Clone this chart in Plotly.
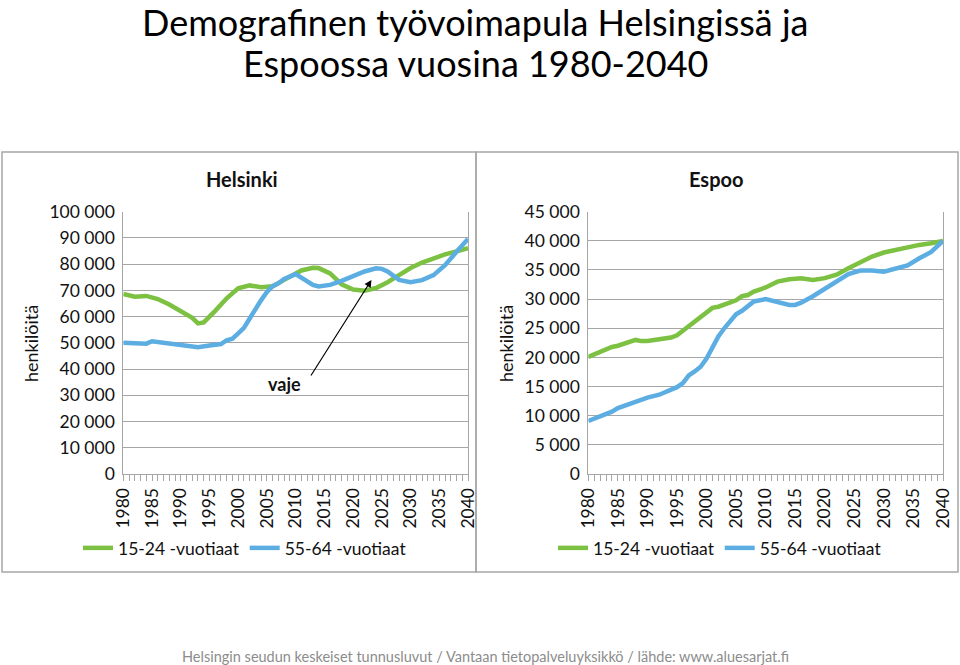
import plotly.graph_objects as go

# Helsinki, 15-24 -vuotiaat
hki_young_years = [1980, 1982, 1984, 1986, 1988, 1990, 1992, 1993, 1994, 1996, 1998,
                   2000, 2002, 2004, 2006, 2008, 2010, 2011, 2013, 2014, 2016, 2018,
                   2020, 2022, 2024, 2026, 2028, 2030, 2032, 2034, 2036, 2038, 2040]
hki_young = [68600, 67600, 67900, 66700, 64600, 62100, 59500, 57400, 57800, 62200, 67000,
             70800, 71900, 71200, 71600, 74000, 76300, 77600, 78600, 78500, 76500, 72300,
             70300, 69900, 70900, 73100, 75800, 78500, 80600, 82200, 83700, 84900, 86100]

# Helsinki, 55-64 -vuotiaat
hki_old_years = [1980, 1982, 1984, 1985, 1987, 1989, 1991, 1993, 1995, 1997, 1998, 1999,
                 2000, 2001, 2002, 2003, 2004, 2005, 2006, 2007, 2008, 2010, 2011, 2012,
                 2013, 2014, 2016, 2018, 2020, 2022, 2024, 2025, 2026, 2027, 2028, 2030,
                 2032, 2034, 2036, 2038, 2040]
hki_old = [50000, 50000, 49700, 50600, 50000, 49400, 48600, 48300, 49000, 49500, 51000, 51600,
           53600, 55700, 59300, 63100, 66300, 69400, 71600, 72700, 74400, 76200, 74900, 73200,
           72100, 71500, 72100, 73600, 75600, 77200, 78400, 78200, 77200, 75400, 74000, 73100,
           73900, 75800, 79600, 84700, 89600]

# Espoo, 15-24 -vuotiaat
esp_young_years = [1980, 1982, 1984, 1985, 1986, 1988, 1989, 1990, 1992, 1994, 1995, 1996,
                   1998, 2000, 2001, 2002, 2004, 2005, 2006, 2007, 2008, 2010, 2012, 2014,
                   2016, 2018, 2020, 2022, 2024, 2026, 2028, 2030, 2032, 2034, 2036, 2038,
                   2040]
esp_young = [20100, 21000, 21800, 22000, 22400, 23000, 22800, 22800, 23100, 23400, 23800, 24600,
             26100, 27800, 28500, 28700, 29400, 29800, 30500, 30700, 31300, 32000, 33000, 33400,
             33600, 33300, 33600, 34200, 35300, 36300, 37300, 38000, 38500, 38900, 39300, 39600,
             40000]

# Espoo, 55-64 -vuotiaat
esp_old_years = [1980, 1982, 1984, 1985, 1986, 1988, 1990, 1992, 1994, 1995, 1996, 1997,
                 1998, 1999, 2000, 2001, 2002, 2003, 2004, 2005, 2006, 2007, 2008, 2010,
                 2012, 2014, 2015, 2016, 2018, 2020, 2022, 2024, 2026, 2028, 2030, 2032,
                 2034, 2036, 2038, 2040]
esp_old = [9100, 9800, 10700, 11300, 11700, 12500, 13100, 13600, 14400, 14900, 15600, 16900,
           17600, 18400, 19800, 21800, 23600, 25000, 26300, 27400, 28000, 28900, 29600, 30000,
           29400, 29000, 29000, 29400, 30500, 31800, 33000, 34300, 34900, 34900, 34700, 35300,
           35800, 37000, 38100, 40000]

series_names = ["15-24 -vuotiaat", "55-64 -vuotiaat"]
tick_years = list(range(1980, 2041))
tick_labels = [str(y) if y % 5 == 0 else "" for y in tick_years]
hki_yticks = list(range(0, 100001, 10000))
esp_yticks = list(range(0, 45001, 5000))
title_lines = ["Demografinen työvoimapula Helsingissä ja", "Espoossa vuosina 1980-2040"]

GREEN = "#7cc142"
BLUE = "#5caee2"
FONT = "Lato"
W, H = 960, 665


def px_x(p):
    return p / W


def px_y(p):
    return 1 - p / H


fig = go.Figure()

panels = [
    ("x", "y", "legend", [(hki_young_years, hki_young), (hki_old_years, hki_old)]),
    ("x2", "y2", "legend2", [(esp_young_years, esp_young), (esp_old_years, esp_old)]),
]
for xa, ya, leg, data in panels:
    for (xs, ys), name, col in zip(data, series_names, [GREEN, BLUE]):
        fig.add_trace(go.Scatter(
            x=xs, y=ys, name=name, mode="lines", xaxis=xa, yaxis=ya, legend=leg,
            line=dict(color=col, width=4.5), hoverinfo="x+y"))

tick_font = dict(family=FONT, size=17.5, color="#111")
x_common = dict(
    showgrid=False, showline=True, linecolor="#a6a6a6", linewidth=1, automargin=False,
    ticks="outside", ticklen=6, tickcolor="#a6a6a6", tickfont=tick_font,
    range=[1980, 2040], tickvals=tick_years, ticktext=tick_labels, tickangle=-90,
)
y_common = dict(showgrid=True, gridcolor="#a6a6a6", gridwidth=1, showline=True,
                linecolor="#a6a6a6", mirror=True, ticks="", zeroline=False,
                automargin=False, tickformat=",d", tickfont=tick_font, ticklabelstandoff=4)

y_bottom, y_top = px_y(474), px_y(211.7)
fig.update_layout(
    xaxis=dict(x_common, domain=[px_x(123.3), px_x(468)], anchor="y"),
    yaxis=dict(y_common, domain=[y_bottom, y_top], range=[0, 100000], tickvals=hki_yticks,
               anchor="x"),
    xaxis2=dict(x_common, domain=[px_x(588.3), px_x(943)], anchor="y2"),
    yaxis2=dict(y_common, domain=[y_bottom, y_top], range=[0, 45000], tickvals=esp_yticks,
                anchor="x2"),
)

legend_style = dict(orientation="h", yanchor="middle", xanchor="left", y=px_y(548),
                    font=dict(family=FONT, size=17.5, color="#111"), bgcolor="rgba(0,0,0,0)",
                    itemwidth=30)
fig.update_layout(
    legend=dict(legend_style, x=px_x(78)),
    legend2=dict(legend_style, x=px_x(553)),
)

# panel frames
for x0, x1 in [(2, 476), (476, 958)]:
    fig.add_shape(type="rect", xref="paper", yref="paper",
                  x0=px_x(x0), x1=px_x(x1), y0=px_y(572), y1=px_y(152),
                  line=dict(color="#a6a6a6", width=1.5), fillcolor="rgba(0,0,0,0)",
                  layer="below")

title_font = dict(family=FONT, size=36, color="#000")
annotations = [
    dict(text=title_lines[0], x=px_x(475), y=px_y(-2), yanchor="top", font=title_font),
    dict(text=title_lines[1], x=px_x(475), y=px_y(63), font=title_font),
    dict(text="<b>Helsinki</b>", x=px_x(242), y=px_y(179),
         font=dict(family=FONT, size=20, color="#111")),
    dict(text="<b>Espoo</b>", x=px_x(716), y=px_y(179),
         font=dict(family=FONT, size=20, color="#111")),
    dict(text="henkilöitä", x=px_x(31), y=px_y(344), textangle=-90,
         font=dict(family=FONT, size=18, color="#111")),
    dict(text="henkilöitä", x=px_x(506), y=px_y(344), textangle=-90,
         font=dict(family=FONT, size=18, color="#111")),
    dict(text="Helsingin seudun keskeiset tunnusluvut / Vantaan tietopalveluyksikkö / lähde: www.aluesarjat.fi",
         x=px_x(485), y=px_y(656), font=dict(family=FONT, size=14.5, color="#8c8c8c")),
]
for a in annotations:
    a.setdefault("yanchor", "middle")
    fig.add_annotation(xref="paper", yref="paper", showarrow=False, xanchor="center", **a)

# arrow pointing to the gap
fig.add_annotation(x=2023.2, y=74000, ax=2012.5, ay=37000, xref="x", yref="y",
                   axref="x", ayref="y", showarrow=True, arrowhead=2, arrowsize=1.2,
                   arrowwidth=1.2, arrowcolor="#000", text="")
fig.add_annotation(x=2008, y=34500, xref="x", yref="y", showarrow=False,
                   text="<b>vaje</b>", font=dict(family=FONT, size=18, color="#111"))

fig.update_layout(
    width=W, height=H, margin=dict(l=0, r=0, t=0, b=0, autoexpand=False),
    paper_bgcolor="white", plot_bgcolor="white", separators=", ",
    font=dict(family=FONT), showlegend=True,
)

# drop the default page margin so the 960x665 figure fills the window exactly
fig.write_html("out.html", config={"displayModeBar": False},
               post_script="document.body.style.margin = '0';")
